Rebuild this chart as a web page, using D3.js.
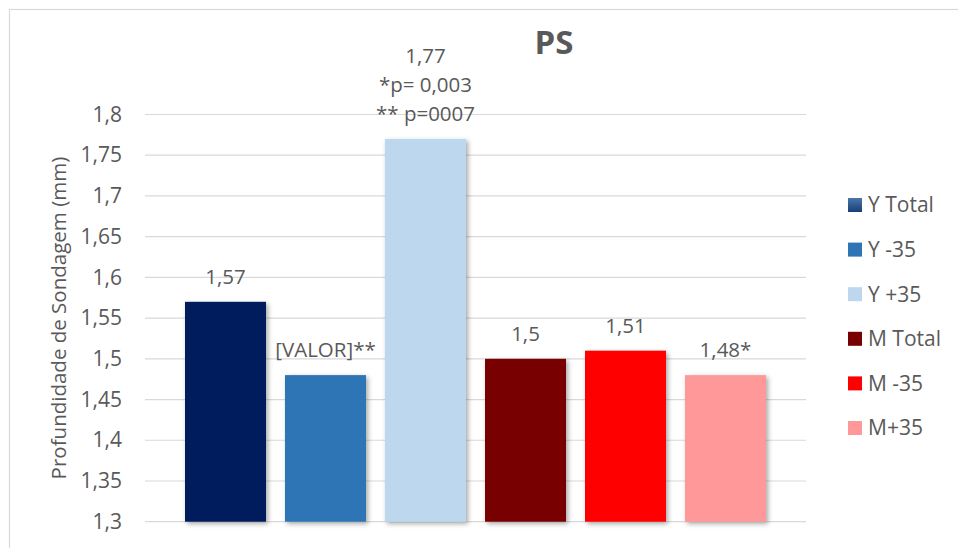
<!DOCTYPE html>
<html>
<head>
<meta charset="utf-8">
<script src="https://cdn.jsdelivr.net/npm/d3@7"></script>
<style>
  body { margin: 0; background: #fff; }
  svg { display: block; }
  text { font-family: "Open Sans", "Noto Sans", sans-serif; fill: #595959; }
</style>
</head>
<body>
<script>
// series in the single category, left to right
var series = ["Y Total", "Y -35", "Y +35", "M Total", "M -35", "M+35"];
var values = [1.57, 1.48, 1.77, 1.5, 1.51, 1.48];
var colors = ["#001f5c", "#2e75b6", "#bdd7ee", "#780000", "#ff0000", "#ff9999"];
var labels = [["1,57"], ["[VALOR]**"], ["1,77", "*p= 0,003", "** p=0007"], ["1,5"], ["1,51"], ["1,48*"]];
var yTicks = [1.3, 1.35, 1.4, 1.45, 1.5, 1.55, 1.6, 1.65, 1.7, 1.75, 1.8];

var width = 958, height = 548;
var plot = {left: 145, right: 806, top: 114.5, bottom: 521.7};

var svg = d3.select("body").append("svg")
    .attr("width", width)
    .attr("height", height);

// bar shadow
var defs = svg.append("defs");
defs.append("filter")
    .attr("id", "shadow")
    .attr("x", "-20%").attr("y", "-20%")
    .attr("width", "140%").attr("height", "140%")
  .append("feDropShadow")
    .attr("dx", 2).attr("dy", 2)
    .attr("stdDeviation", 2.5)
    .attr("flood-color", "#000")
    .attr("flood-opacity", 0.35);

var grad = defs.append("linearGradient")
    .attr("id", "legGrad")
    .attr("x1", 0).attr("y1", 0).attr("x2", 0).attr("y2", 1);
grad.append("stop").attr("offset", "0%").attr("stop-color", "#4a77ab");
grad.append("stop").attr("offset", "100%").attr("stop-color", "#163f76");

// chart border
svg.append("rect")
    .attr("x", 9.5).attr("y", 9.5)
    .attr("width", 1000).attr("height", 600)
    .attr("fill", "none")
    .attr("stroke", "#d9d9d9")
    .attr("stroke-width", 1.2);

var y = d3.scaleLinear()
    .domain([1.3, 1.8])
    .range([plot.bottom, plot.top]);

var x = d3.scaleBand()
    .domain(series)
    .range([175.5, 775.5])
    .paddingInner(0.19)
    .paddingOuter(0.095);

// gridlines
svg.append("g")
  .selectAll("line")
  .data(yTicks)
  .join("line")
    .attr("x1", plot.left).attr("x2", plot.right)
    .attr("y1", function(d) { return y(d); })
    .attr("y2", function(d) { return y(d); })
    .attr("stroke", "#d9d9d9")
    .attr("stroke-width", 1.2);

// y axis labels
var yAxis = d3.axisLeft(y)
    .tickValues(yTicks)
    .tickSize(0)
    .tickPadding(0)
    .tickFormat(function(d) { return d3.format(".2~f")(d).replace(".", ","); });

var ga = svg.append("g")
    .attr("transform", "translate(122,0)")
    .call(yAxis);
ga.select(".domain").remove();
ga.selectAll("text")
    .style("font-family", "\"Open Sans\", sans-serif")
    .style("font-size", "21px")
    .attr("fill", "#595959");

// axis title
svg.append("text")
    .attr("transform", "translate(66," + (plot.top + plot.bottom) / 2 + ") rotate(-90)")
    .attr("text-anchor", "middle")
    .style("font-size", "20.5px")
    .text("Profundidade de Sondagem (mm)");

// title
svg.append("text")
    .attr("x", 554).attr("y", 54)
    .attr("text-anchor", "middle")
    .style("font-size", "33px")
    .style("font-weight", "bold")
    .text("PS");

// bars
svg.append("g")
  .selectAll("rect")
  .data(values)
  .join("rect")
    .attr("x", function(d, i) { return x(series[i]); })
    .attr("y", function(d) { return y(d); })
    .attr("width", x.bandwidth())
    .attr("height", function(d) { return y(1.3) - y(d); })
    .attr("fill", function(d, i) { return colors[i]; })
    .attr("filter", "url(#shadow)");

// data labels
var lineH = 29;
var lab = svg.append("g")
  .selectAll("text")
  .data(values)
  .join("text")
    .attr("text-anchor", "middle")
    .attr("x", function(d, i) { return x(series[i]) + x.bandwidth() / 2; })
    .attr("y", function(d, i) { return y(d) - 18 - (labels[i].length - 1) * lineH; })
    .style("font-size", "20.5px");
lab.each(function(d, i) {
  d3.select(this).selectAll("tspan")
    .data(labels[i])
    .join("tspan")
      .attr("x", x(series[i]) + x.bandwidth() / 2)
      .attr("dy", function(t, j) { return j === 0 ? 0 : lineH; })
      .text(function(t) { return t; });
});

// legend
var leg = svg.append("g")
  .selectAll("g")
  .data(series)
  .join("g")
    .attr("transform", function(d, i) { return "translate(848," + (205 + i * 44.6) + ")"; });
leg.append("rect")
    .attr("x", 0).attr("y", -7)
    .attr("width", 14).attr("height", 14)
    .attr("fill", function(d, i) { return i === 0 ? "url(#legGrad)" : colors[i]; });
leg.append("text")
    .attr("x", 20).attr("y", 0)
    .attr("dy", "0.35em")
    .style("font-size", "21px")
    .text(function(d) { return d; });
</script>
</body>
</html>
